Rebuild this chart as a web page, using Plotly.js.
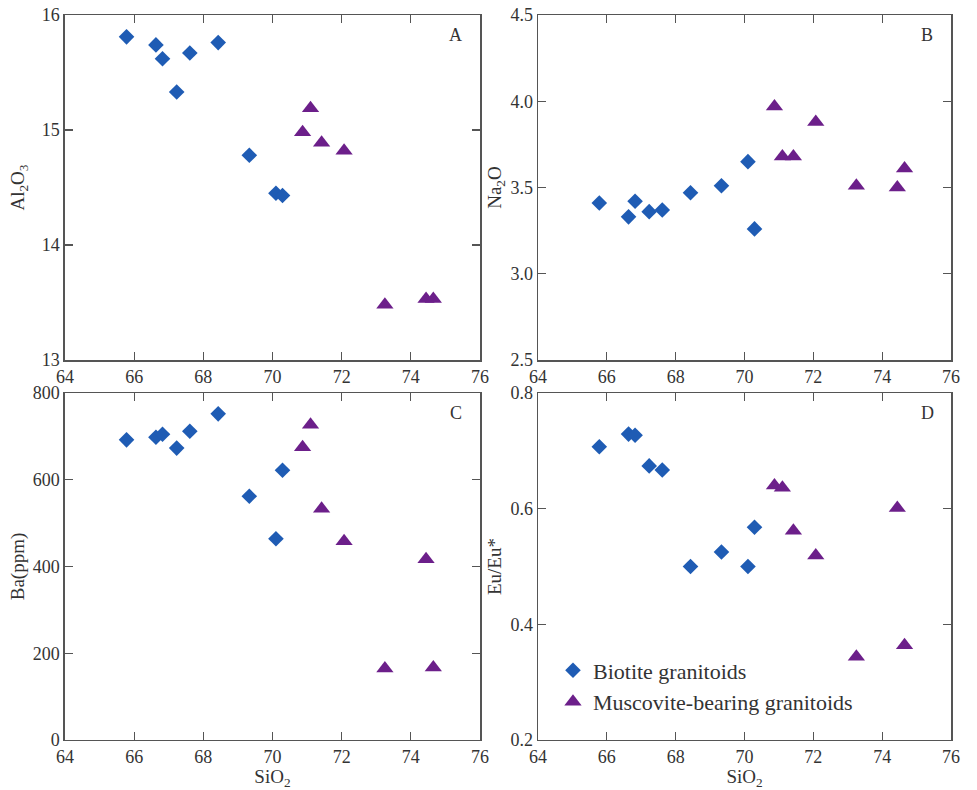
<!DOCTYPE html>
<html>
<head>
<meta charset="utf-8">
<script src="https://cdn.plot.ly/plotly-3.0.1.min.js"></script>
</head>
<body style="margin:0;background:#fff">
<div id="chart"></div>
<script>
// Biotite granitoids
const bioSiO2  = [65.78, 66.63, 66.82, 67.23, 67.61, 68.43, 69.33, 70.10, 70.29];
const bioAl2O3 = [15.81, 15.74, 15.62, 15.33, 15.67, 15.76, 14.78, 14.45, 14.43];
const bioNa2O  = [3.41, 3.33, 3.42, 3.36, 3.37, 3.47, 3.51, 3.65, 3.26];
const bioBa    = [692, 698, 705, 673, 712, 752, 562, 464, 622];
const bioEu    = [0.707, 0.729, 0.727, 0.674, 0.667, 0.500, 0.525, 0.500, 0.568];
// Muscovite-bearing granitoids
const musSiO2  = [70.87, 71.10, 71.42, 72.07, 73.25, 74.44, 74.65];
const musAl2O3 = [14.98, 15.19, 14.89, 14.82, 13.48, 13.53, 13.53];
const musNa2O  = [3.97, 3.68, 3.68, 3.88, 3.51, 3.50, 3.61];
const musBa    = [675, 727, 533, 458, 165, 417, 167];
const musEu    = [0.640, 0.636, 0.562, 0.519, 0.344, 0.601, 0.364];

const seriesNames = ['Biotite granitoids', 'Muscovite-bearing granitoids'];
const panelLetters = ['A', 'B', 'C', 'D'];

const BLUE = '#1f5cb4';
const PURPLE = '#6c1f8a';
const FONT = 'Liberation Serif';
const TXT = '#333';

const panels = [
  {xa: 'x',  ya: 'y',  b: bioAl2O3, m: musAl2O3},
  {xa: 'x2', ya: 'y2', b: bioNa2O,  m: musNa2O},
  {xa: 'x3', ya: 'y3', b: bioBa,    m: musBa},
  {xa: 'x4', ya: 'y4', b: bioEu,    m: musEu}
];

const traces = [];
panels.forEach((p, i) => {
  traces.push({
    type: 'scatter', mode: 'markers', x: bioSiO2, y: p.b, xaxis: p.xa, yaxis: p.ya,
    name: seriesNames[0], showlegend: i === 3,
    marker: {symbol: 'diamond', size: 12, color: BLUE, line: {width: 0}}
  });
  traces.push({
    type: 'scatter', mode: 'markers', x: musSiO2, y: p.m, xaxis: p.xa, yaxis: p.ya,
    name: seriesNames[1], showlegend: i === 3,
    marker: {symbol: 'triangle-up', size: 15, color: PURPLE, line: {width: 0}}
  });
});

function xaxis(domain, anchor, withTitle) {
  const a = {
    domain: domain, anchor: anchor, range: [64, 76], dtick: 2, tick0: 64,
    showline: true, mirror: 'ticks', linecolor: '#555', linewidth: 1.5,
    ticks: 'inside', ticklen: 8, tickwidth: 1.2, tickcolor: '#555',
    showgrid: false, zeroline: false,
    tickfont: {size: 18}
  };
  if (withTitle) a.title = {text: 'SiO<sub>2</sub>', font: {size: 19}, standoff: 0};
  return a;
}
function yaxis(domain, anchor, range, dtick, fmt, title, standoff) {
  return {
    domain: domain, anchor: anchor, range: range, dtick: dtick, tick0: range[0], tickformat: fmt,
    showline: true, mirror: 'ticks', linecolor: '#555', linewidth: 1.5,
    ticks: 'inside', ticklen: 8, tickwidth: 1.2, tickcolor: '#555',
    showgrid: false, zeroline: false,
    tickfont: {size: 18},
    title: {text: title, font: {size: 19}, standoff: standoff}
  };
}

const xL = [0.0665, 0.4913], xR = [0.5507, 0.9734];
const yT = [0.5443, 0.981], yB = [0.0633, 0.5025];

const layout = {
  width: 977, height: 790,
  margin: {l: 0, r: 0, t: 0, b: 0},
  paper_bgcolor: '#fff', plot_bgcolor: '#fff',
  font: {family: FONT, color: TXT, size: 18},
  xaxis:  xaxis(xL, 'y', false),
  yaxis:  yaxis(yT, 'x', [13, 16], 1, 'd', 'Al<sub>2</sub>O<sub>3</sub>', 12),
  xaxis2: xaxis(xR, 'y2', false),
  yaxis2: yaxis(yT, 'x2', [2.5, 4.5], 0.5, '.1f', 'Na<sub>2</sub>O', 4),
  xaxis3: xaxis(xL, 'y3', true),
  yaxis3: yaxis(yB, 'x3', [0, 800], 200, 'd', 'Ba(ppm)', 3),
  xaxis4: xaxis(xR, 'y4', true),
  yaxis4: yaxis(yB, 'x4', [0.2, 0.8], 0.2, '.1f', 'Eu/Eu*', 4),
  showlegend: true,
  legend: {
    x: 0.566, y: 0.178, xanchor: 'left', yanchor: 'top',
    bgcolor: 'rgba(0,0,0,0)', borderwidth: 0,
    font: {size: 22},
    tracegroupgap: 0
  },
  annotations: panelLetters.map((t, i) => ({
    text: t, showarrow: false,
    xref: (i === 0 ? 'x' : 'x' + (i + 1)) + ' domain',
    yref: (i === 0 ? 'y' : 'y' + (i + 1)) + ' domain',
    x: 0.942, y: 0.942, xanchor: 'center', yanchor: 'middle',
    font: {size: 18}
  }))
};

Plotly.newPlot('chart', traces, layout, {displayModeBar: false, staticPlot: true});
</script>
</body>
</html>
